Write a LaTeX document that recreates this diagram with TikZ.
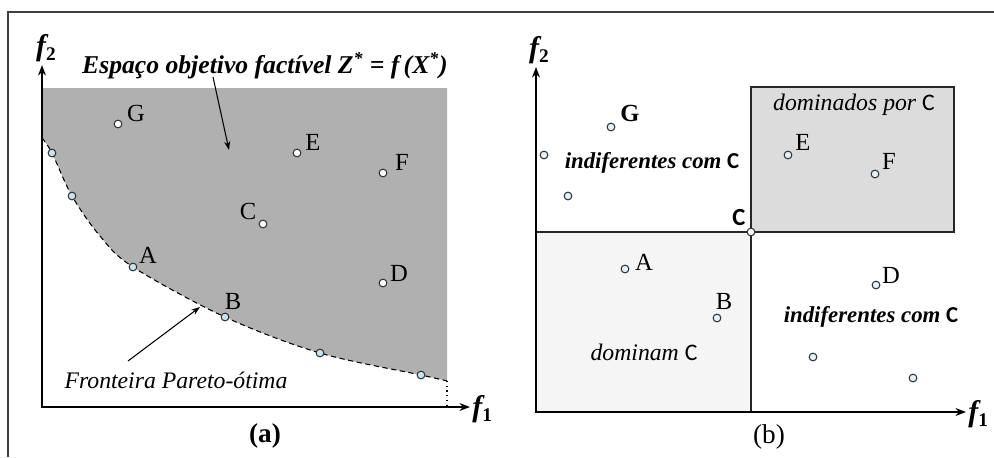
\documentclass[tikz,border=0pt]{standalone}
\usepackage{fontspec}
\setmainfont{Liberation Serif}
\newfontfamily\calib{Carlito}
\usetikzlibrary{arrows.meta}
\definecolor{regiongray}{HTML}{B0B0B0}
\definecolor{boxup}{HTML}{DCDCDC}
\definecolor{boxlow}{HTML}{F5F5F5}
\definecolor{ptblue}{HTML}{C6E4F4}
\definecolor{framegray}{HTML}{404040}
\begin{document}
\begin{tikzpicture}[x=0.02cm,y=-0.02cm,
  frameline/.style={draw=framegray,line width=0.9pt},
  axis/.style={draw=black,line width=0.8pt,{Stealth[length=6pt,width=4.5pt]}-{Stealth[length=6pt,width=4.5pt]}},
  pointer/.style={draw=black,line width=0.6pt,-{Stealth[length=5pt,width=3.5pt]}},
  pt/.style={circle,draw=black!80,line width=0.6pt,fill=white,inner sep=0pt,minimum size=0.155cm},
  ptb/.style={pt,fill=ptblue},
  lbl/.style={font=\fontsize{14}{16}\selectfont,inner sep=0pt},
  axlbl/.style={font=\fontsize{17}{19}\selectfont\bfseries\itshape,inner sep=0pt},
  capt/.style={font=\fontsize{15.5}{18}\selectfont\bfseries,inner sep=0pt},
  region/.style={font=\fontsize{13.5}{15}\selectfont\itshape,inner sep=0pt},
  regionb/.style={font=\fontsize{13}{15}\selectfont\bfseries\itshape,inner sep=0pt}
]
\useasboundingbox (0,0) rectangle (994,457);
% outer frame
\draw[frameline] (8,457) -- (8,12) -- (994,12);

% ---------------- panel (a) ----------------
\fill[regiongray] plot[smooth,tension=0.55] coordinates {(42,138) (52,153) (72,196) (100,236) (133,267) (225,317) (320,353) (421,375) (447,381)} -- (447,88) -- (42,88) -- cycle;
\draw[dashed,line width=0.6pt,dash pattern=on 3pt off 2pt] plot[smooth,tension=0.55] coordinates {(42,138) (52,153) (72,196) (100,236) (133,267) (225,317) (320,353) (421,375) (447,381)};
\draw[dotted,line width=0.7pt] (447,381) -- (447,407);
\coordinate (ya) at (42,65);
\coordinate (oa) at (42,407);
\coordinate (xa) at (470,407);
\draw[axis] (ya) -- (oa) -- (xa);
\node[axlbl] (f2a) at (46,48) {f\raisebox{-0.35ex}{\fontsize{11}{13}\selectfont\upshape 2}};
\node[axlbl,anchor=west] (f1a) at (472,409) {f\raisebox{-0.35ex}{\fontsize{11}{13}\selectfont\upshape 1}};

\node[ptb] (pa1) at (52,153) {};
\node[ptb] (pa2) at (72,196) {};
\node[ptb] (pA) at (133,267) {};
\node[ptb] (pB) at (225,317) {};
\node[ptb] (pa5) at (320,353) {};
\node[ptb] (pa6) at (421,375) {};
\node[pt] (pG) at (118,124) {};
\node[pt] (pE) at (297,153) {};
\node[pt] (pF) at (383,173) {};
\node[pt] (pC) at (263,224) {};
\node[pt] (pD) at (383,283) {};
\node[lbl] (lA) at (148,255) {A};
\node[lbl] (lB) at (233,301) {B};
\node[lbl] (lG) at (136,113) {G};
\node[lbl] (lE) at (313,142) {E};
\node[lbl] (lF) at (402,162) {F};
\node[lbl] (lC) at (248,211) {C};
\node[lbl] (lD) at (399,273) {D};

\node[font=\fontsize{14.6}{17}\selectfont\bfseries\itshape,inner sep=0pt] (title) at (265,66) {Espaço objetivo factível Z\textsuperscript{*} = f\,(X\textsuperscript{*})};
\coordinate (t1) at (213,77);
\coordinate (t2) at (229,150);
\draw[pointer] (t1) -- (t2);
\node[region] (front) at (176,380) {Fronteira Pareto-ótima};
\coordinate (fr1) at (128,361);
\coordinate (fr2) at (200,307);
\draw[pointer] (fr1) -- (fr2);
\node[capt] (capa) at (265,436) {(a)};

% ---------------- panel (b) ----------------
\filldraw[fill=boxup,draw=black!85,line width=0.8pt] (751,87) rectangle (954,232);
\filldraw[fill=boxlow,draw=black!85,line width=0.8pt] (536,232) rectangle (751,412);
\coordinate (yb) at (536,67);
\coordinate (ob) at (536,412);
\coordinate (xb) at (966,412);
\draw[axis] (yb) -- (ob) -- (xb);
\node[axlbl] (f2b) at (539,50) {f\raisebox{-0.35ex}{\fontsize{11}{13}\selectfont\upshape 2}};
\node[axlbl,anchor=west] (f1b) at (968,414) {f\raisebox{-0.35ex}{\fontsize{11}{13}\selectfont\upshape 1}};

\node[pt,fill=white] (qC) at (751,232) {};
\node[lbl,font=\fontsize{14}{16}\selectfont\bfseries\calib] (mC) at (739,218) {C};
\node[pt,fill=ptblue!50] (qG) at (611,127) {};
\node[pt,fill=ptblue!50] (q1) at (544,155) {};
\node[pt,fill=ptblue!50] (q2) at (568,196) {};
\node[pt,fill=ptblue!50] (qE) at (788,155) {};
\node[pt,fill=ptblue!50] (qF) at (875,174) {};
\node[pt,fill=ptblue!50] (qA) at (625,269) {};
\node[pt,fill=ptblue!50] (qB) at (717,318) {};
\node[pt,fill=ptblue!50] (qD) at (876,285) {};
\node[pt,fill=ptblue!50] (q5) at (813,357) {};
\node[pt,fill=ptblue!50] (q6) at (913,378) {};
\node[lbl,font=\fontsize{14}{16}\selectfont\bfseries] (mG) at (630,113) {G};
\node[lbl] (mE) at (803,142) {E};
\node[lbl] (mF) at (889,161) {F};
\node[lbl] (mA) at (644,262) {A};
\node[lbl] (mB) at (724,301) {B};
\node[lbl] (mD) at (891,275) {D};

\node[region] (dom) at (854,105) {dominados por {\upshape\calib C}};
\node[regionb] (ind1) at (652,163) {indiferentes com {\upshape\calib C}};
\node[regionb] (ind2) at (871,317) {indiferentes com {\upshape\calib C}};
\node[region] (domin) at (644,352) {dominam {\upshape\calib C}};
\node[capt,font=\fontsize{15.5}{18}\selectfont] (capb) at (769,437) {(b)};
\end{tikzpicture}
\end{document}
